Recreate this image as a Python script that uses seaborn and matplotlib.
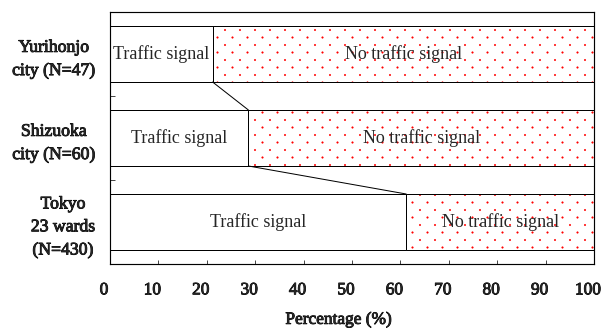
import numpy as np
import matplotlib
matplotlib.use('Agg')
import matplotlib.pyplot as plt
import matplotlib.hatch as mhatch
import matplotlib.patheffects as pe
from matplotlib.path import Path
from matplotlib.transforms import ScaledTranslation
import seaborn as sns

# Share of crossings with / without traffic signal per area (%)
cities = ['Yurihonjo\ncity (N=47)', 'Shizuoka\ncity (N=60)', 'Tokyo\n23 wards\n(N=430)']
signal = [21.2, 28.6, 61.2]
total = [100, 100, 100]
signal_label = 'Traffic signal'
no_signal_label = 'No traffic signal'
xticks = [0, 10, 20, 30, 40, 50, 60, 70, 80, 90, 100]

DPI = 120


# sparse staggered dot pattern like the original (replaces the '.' hatch)
class DotLattice(mhatch.HatchPatternBase):
    rows = 16
    cols = 8
    radius = 0.85 / DPI

    def __init__(self, hatch, density):
        self.circle = Path.unit_circle()
        self.centers = []
        if hatch.count('.') > 0:
            for r in range(self.rows + 1):
                y = r / self.rows
                if r % 2 == 0:
                    xs = np.linspace(0, 1, self.cols + 1)
                else:
                    xs = (np.arange(self.cols) + 0.5) / self.cols
                self.centers += [(x, y) for x in xs]
        self.num_vertices = len(self.centers) * len(self.circle.vertices)

    def set_vertices_and_codes(self, vertices, codes):
        shape = self.circle.vertices * self.radius
        vertices[:] = np.concatenate([shape + np.array(c) for c in self.centers])
        codes[:] = np.tile(self.circle.codes, len(self.centers))


mhatch._hatch_types = [DotLattice if t is mhatch.SmallFilledCircles else t
                       for t in mhatch._hatch_types]

sns.set_style('ticks')
plt.rcParams['font.family'] = ['Liberation Serif', 'DejaVu Serif']
plt.rcParams['hatch.linewidth'] = 0.2

fig = plt.figure(figsize=(603 / DPI, 329 / DPI), dpi=DPI)
ax = fig.add_axes([0.1824, 0.1976, 0.985 - 0.1824, 0.9635 - 0.1976])

w = 2 / 3
lw = 0.6
heavy = [pe.withStroke(linewidth=0.5, foreground='black')]

# dotted "no signal" part = full bar, signal part painted over it
sns.barplot(x=total, y=cities, color='white', edgecolor='red', hatch='.',
            width=w, linewidth=0.3, errorbar=None, ax=ax)
sns.barplot(x=total, y=cities, fill=False, color='black',
            width=w, linewidth=lw, errorbar=None, ax=ax)
sns.barplot(x=signal, y=cities, color='white', edgecolor='black',
            width=w, linewidth=lw, errorbar=None, ax=ax)

# connector lines between the signal segments
for i in range(len(signal) - 1):
    ax.plot([signal[i], signal[i + 1]], [i + w / 2, i + 1 - w / 2],
            color='black', lw=lw)

for i, s in enumerate(signal):
    ax.text(s / 2, i, signal_label, ha='center', va='center', fontsize=10.8)
    ax.text((s + 100) / 2, i, no_signal_label, ha='center', va='center', fontsize=10.8)

ax.set_xlim(0, 100)
ax.set_ylim(len(cities) - 0.5, -0.5)
ax.set_xticks(xticks)
ax.set_xticklabels([str(t) for t in xticks], fontsize=10.4)
ax.tick_params(axis='x', direction='in', length=2.4, width=0.5, pad=11)
# the original tick numbers sit a little left of their ticks
shift = ScaledTranslation(-6 / DPI, 0, fig.dpi_scale_trans)
for lbl in ax.get_xticklabels():
    lbl.set_transform(lbl.get_transform() + shift)
    lbl.set_path_effects(heavy)
ax.set_yticks(range(len(cities)))
ax.set_yticklabels(cities, fontsize=10.6, multialignment='center', linespacing=1.45)
for lbl in ax.get_yticklabels():
    lbl.set_path_effects(heavy)
ax.tick_params(axis='y', which='major', length=0, pad=9)
ax.set_yticks([0.5, 1.5], minor=True)
ax.tick_params(axis='y', which='minor', direction='in', length=3, width=0.5)
ax.set_xlabel('Percentage (%)', fontsize=10.4, path_effects=heavy)
ax.xaxis.set_label_coords(0.473, -0.19)
ax.set_ylabel('')

for sp in ax.spines.values():
    sp.set_visible(True)
    sp.set_linewidth(0.7)
    sp.set_color('black')

fig.savefig('out.png', dpi=DPI)
